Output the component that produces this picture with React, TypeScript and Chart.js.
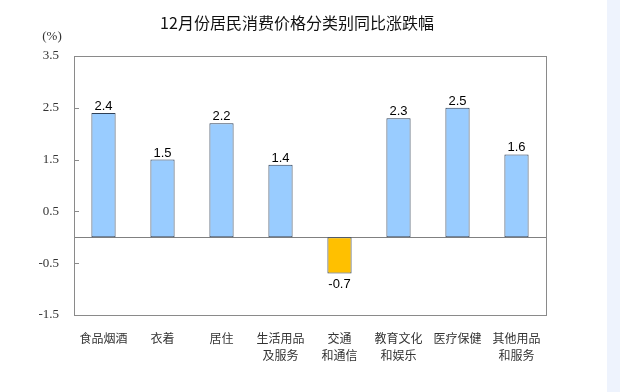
import React, { useEffect, useRef } from "react";
import { Chart, registerables } from "chart.js";

Chart.register(...registerables);

const titleText = "12月份居民消费价格分类别同比涨跌幅";
const unitText = "(%)";
const categories: string[][] = [
  ["食品烟酒"],
  ["衣着"],
  ["居住"],
  ["生活用品", "及服务"],
  ["交通", "和通信"],
  ["教育文化", "和娱乐"],
  ["医疗保健"],
  ["其他用品", "和服务"],
];
const values: number[] = [2.4, 1.5, 2.2, 1.4, -0.7, 2.3, 2.5, 1.6];
const yTicks: number[] = [-1.5, -0.5, 0.5, 1.5, 2.5, 3.5];

const POS_COLOR = "#99CCFF";
const NEG_COLOR = "#FFC000";

const decorPlugin = {
  id: "decor",
  beforeDraw(chart: any) {
    const { ctx, width, height } = chart;
    ctx.save();
    ctx.fillStyle = "#ffffff";
    ctx.fillRect(0, 0, width, height);
    ctx.fillStyle = "#EEF3FD";
    ctx.fillRect(607, 0, width - 607, height);
    ctx.fillStyle = "#111";
    ctx.font = '16px "Noto Sans CJK SC", sans-serif';
    ctx.textAlign = "center";
    ctx.textBaseline = "middle";
    ctx.fillText(titleText, 297, 23);
    ctx.font = '13px "Liberation Serif", "Times New Roman", serif';
    ctx.fillStyle = "#333";
    ctx.fillText(unitText, 52, 37);
    ctx.restore();
  },
  beforeDatasetsDraw(chart: any) {
    const { ctx, chartArea } = chart;
    const y = chart.scales.y;
    const y0 = Math.round(y.getPixelForValue(0)) + 0.5;
    ctx.save();
    ctx.strokeStyle = "#808080";
    ctx.lineWidth = 1;
    ctx.beginPath();
    ctx.moveTo(chartArea.left, y0);
    ctx.lineTo(chartArea.right, y0);
    ctx.stroke();
    ctx.restore();
  },
  afterDatasetsDraw(chart: any) {
    const { ctx, chartArea } = chart;
    const y = chart.scales.y;
    ctx.save();
    ctx.strokeStyle = "#8a8a8a";
    ctx.lineWidth = 1;
    ctx.strokeRect(
      Math.round(chartArea.left) + 0.5,
      Math.round(chartArea.top) + 0.5,
      Math.round(chartArea.right - chartArea.left),
      Math.round(chartArea.bottom - chartArea.top)
    );
    ctx.beginPath();
    yTicks.forEach((v) => {
      const py = Math.round(y.getPixelForValue(v)) + 0.5;
      ctx.moveTo(chartArea.left, py);
      ctx.lineTo(chartArea.left + 5, py);
    });
    ctx.stroke();
    const meta = chart.getDatasetMeta(0);
    ctx.fillStyle = "#000";
    ctx.font = '13px "Liberation Sans", Arial, sans-serif';
    ctx.textAlign = "center";
    meta.data.forEach((bar: any, i: number) => {
      const v = values[i];
      const label = v.toFixed(1);
      if (v >= 0) {
        ctx.textBaseline = "alphabetic";
        ctx.fillText(label, bar.x, bar.y - 3);
      } else {
        ctx.textBaseline = "top";
        ctx.fillText(label, bar.x, bar.y + 4);
      }
    });
    ctx.restore();
  },
};

export default function App() {
  const ref = useRef<HTMLCanvasElement | null>(null);
  useEffect(() => {
    if (!ref.current) return;
    const chart = new Chart(ref.current, {
      type: "bar",
      data: {
        labels: categories,
        datasets: [
          {
            data: values,
            backgroundColor: values.map((v) => (v >= 0 ? POS_COLOR : NEG_COLOR)),
            borderColor: "#2f3f55",
            borderWidth: 1,
            borderSkipped: false,
            categoryPercentage: 1,
            barPercentage: 0.41,
          },
        ],
      },
      options: {
        responsive: false,
        animation: false,
        devicePixelRatio: 1,
        layout: { padding: { top: 56, right: 74, left: 0, bottom: 0 } },
        plugins: {
          legend: { display: false },
          title: { display: false },
          tooltip: { enabled: false },
        },
        scales: {
          x: {
            grid: { display: false },
            border: { display: false },
            ticks: {
              maxRotation: 0,
              autoSkip: false,
              padding: 7,
              color: "#333",
              font: { family: '"Noto Sans CJK SC", sans-serif', size: 12, lineHeight: 1.4 },
            },
            afterFit(scale: any) {
              scale.height = 77;
            },
          },
          y: {
            min: -1.5,
            max: 3.5,
            grid: { display: false, drawTicks: false },
            border: { display: false },
            ticks: {
              padding: 15,
              color: "#333",
              font: { family: '"Liberation Serif", "Times New Roman", serif', size: 13 },
              callback: (v: any) => Number(v).toFixed(1),
            },
            afterBuildTicks(scale: any) {
              scale.ticks = yTicks.map((v) => ({ value: v }));
            },
            afterFit(scale: any) {
              scale.width = 74;
            },
          },
        },
      },
      plugins: [decorPlugin],
    } as any);
    return () => chart.destroy();
  }, []);
  return (
    <div style={{ position: "fixed", left: 0, top: 0, width: 620, height: 392, background: "#fff" }}>
      <canvas ref={ref} width={620} height={392} style={{ display: "block" }} />
    </div>
  );
}
